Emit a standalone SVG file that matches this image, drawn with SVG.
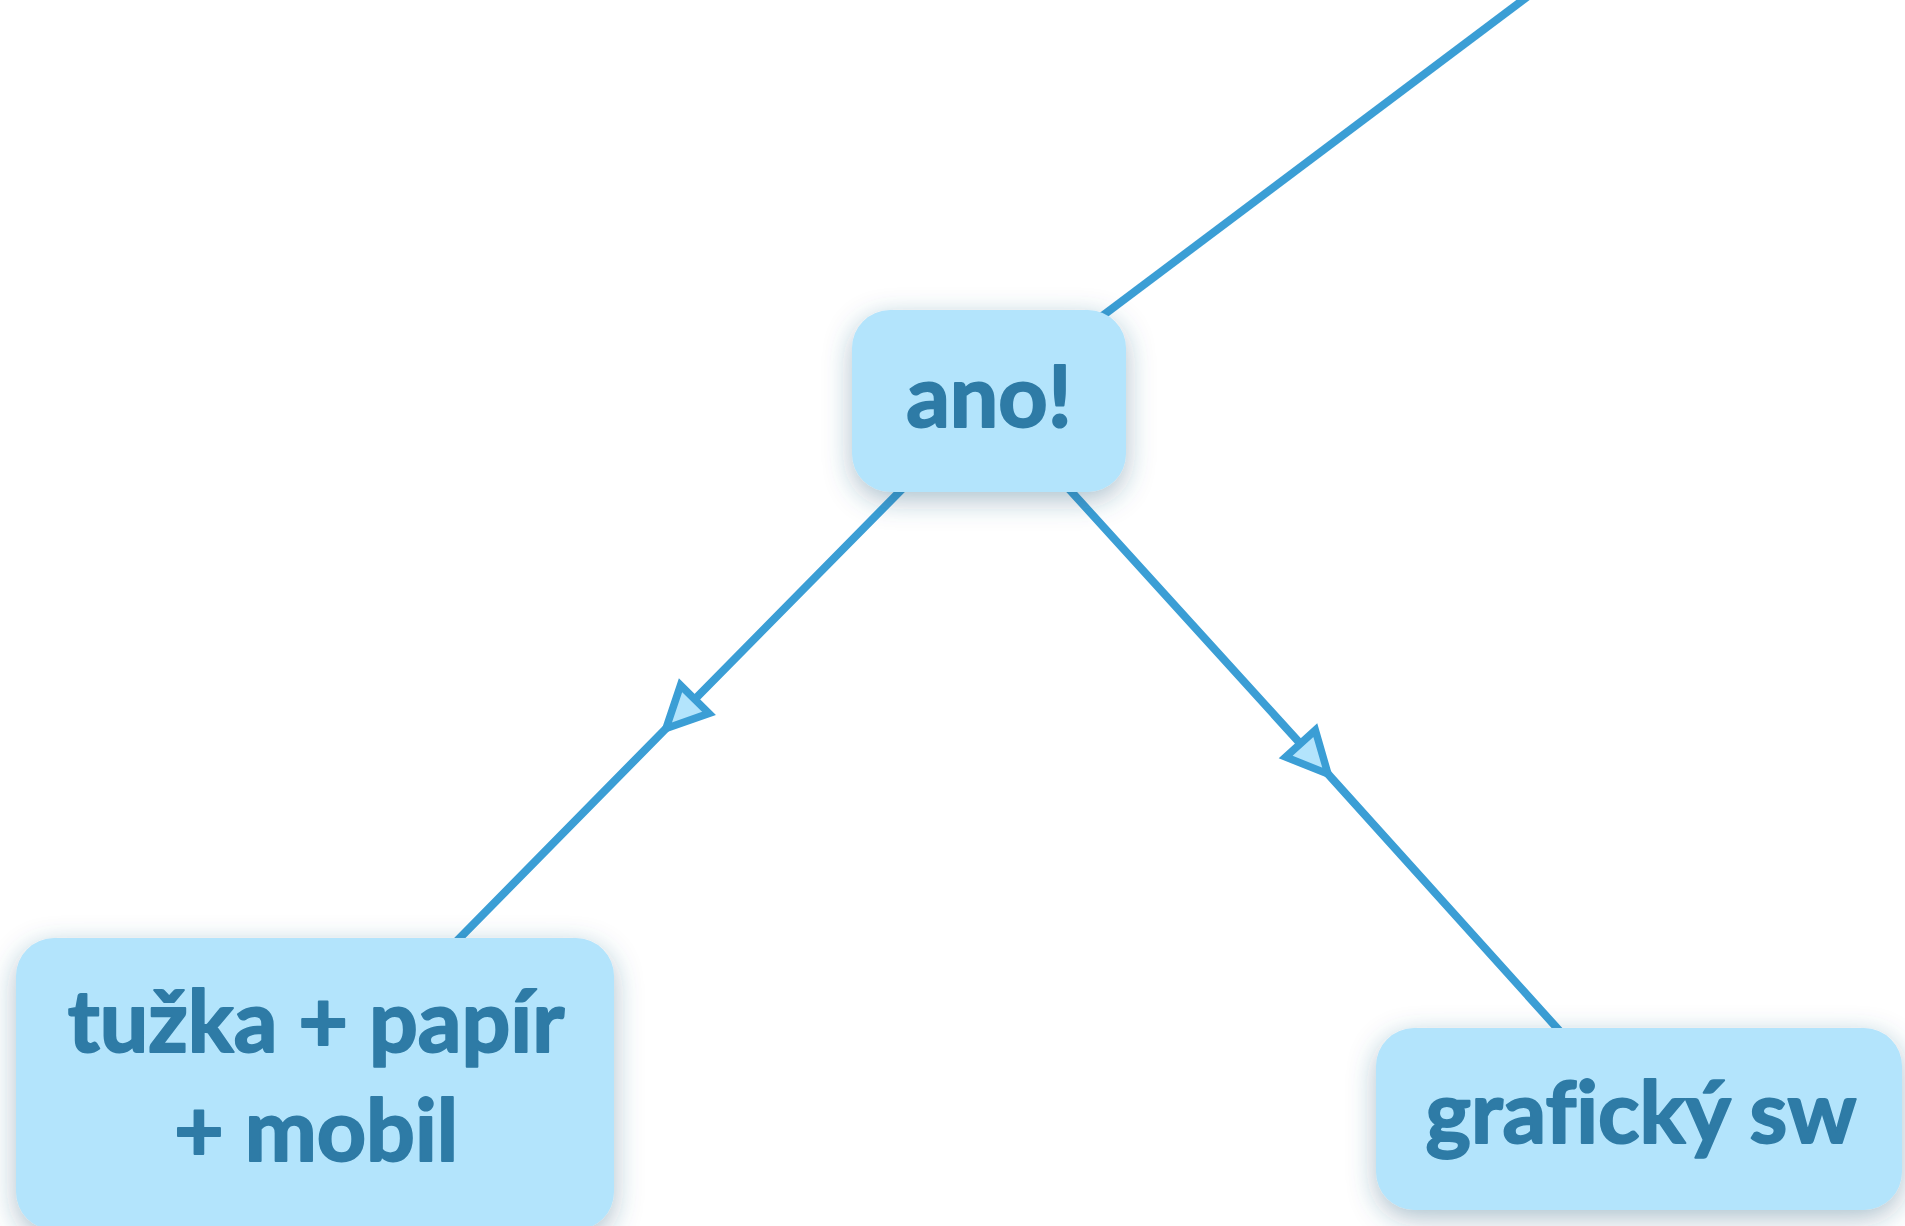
<svg xmlns="http://www.w3.org/2000/svg" width="1905" height="1226" viewBox="0 0 1905 1226">
  <style>
    .edge { fill: none; stroke: #3b9ed5; stroke-width: 8; }
    .box { fill: #b3e4fc; filter: url(#shadow); }
    .label { font-family: "Lato", "Liberation Sans", sans-serif; font-weight: bold; font-size: 86px; fill: #2e7ba6; stroke: #2e7ba6; stroke-width: 2; stroke-linejoin: round; text-anchor: middle; font-variant-ligatures: none; font-feature-settings: "liga" 0; }
  </style>
  <defs>
    <filter id="shadow" x="-30%" y="-30%" width="160%" height="170%">
      <feDropShadow dx="0" dy="8" stdDeviation="14" flood-color="#2a5a7a" flood-opacity="0.38"/>
    </filter>
    <marker id="arrow" markerUnits="userSpaceOnUse" markerWidth="60" markerHeight="60" refX="0" refY="0" orient="auto" overflow="visible">
      <path d="M0,0 L-41,-20 L-41,20 Z" fill="#b3e4fc" stroke="#3b9ed5" stroke-width="7.5"/>
    </marker>
  </defs>
  <rect width="1905" height="1226" fill="#ffffff"/>
  <g id="connectors">
    <path class="edge" d="M989,401 L1540.3,-13"/>
    <path class="edge" d="M989,401 L666,728.5 L316,1084" marker-mid="url(#arrow)"/>
    <path class="edge" d="M989,401 L1328,774 L1639,1119" marker-mid="url(#arrow)"/>
  </g>
  <g id="node-ano">
    <rect class="box" x="852" y="310" width="274" height="182" rx="38"/>
    <text class="label" x="989" y="427">ano!</text>
  </g>
  <g id="node-tuzka">
    <rect class="box" x="16" y="938" width="598" height="292" rx="38"/>
    <text class="label" x="316" y="1052">tužka + papír</text>
    <text class="label" x="316" y="1161">+ mobil</text>
  </g>
  <g id="node-graficky">
    <rect class="box" x="1376" y="1028" width="526" height="182" rx="38"/>
    <text class="label" x="1641" y="1143">grafický sw</text>
  </g>
</svg>
